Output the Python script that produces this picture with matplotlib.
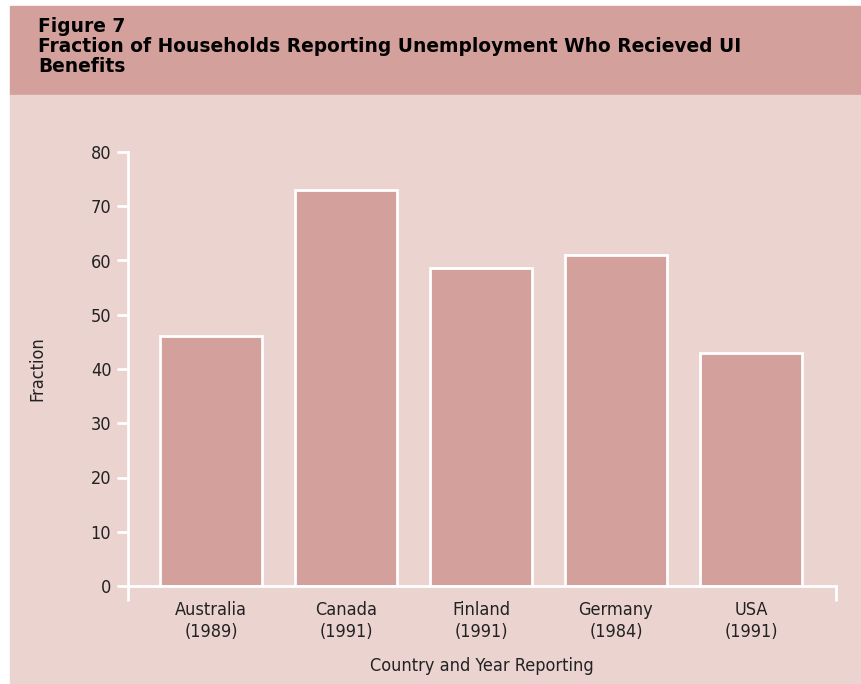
import matplotlib.pyplot as plt
from matplotlib.patches import Rectangle
from matplotlib import font_manager

countries = ['Australia', 'Canada', 'Finland', 'Germany', 'USA']
years = ['1989', '1991', '1991', '1984', '1991']
fraction = [46, 73, 58.7, 61, 43]

header_col = '#d3a09c'
panel_col = '#ebd3d0'

# a narrow face for the axis text, if one is installed
cond = [f for f in font_manager.fontManager.ttflist
        if f.name == 'DejaVu Sans' and 'ondensed' in f.fname and f.weight in (400, 'normal')
        and f.style == 'normal']
if cond:
    narrow = font_manager.FontProperties(fname=cond[0].fname, size=13)
else:
    narrow = font_manager.FontProperties(family='DejaVu Sans', size=12)

fig = plt.figure(figsize=(8.61, 6.84), dpi=100, facecolor='white')

# background bands, drawn under the axes
fig.patches.append(Rectangle((10 / 861, 1 - 95 / 684), 1, 89 / 684,
                             transform=fig.transFigure, color=header_col, zorder=-10))
fig.patches.append(Rectangle((10 / 861, 0.0015), 1, 1 - 95 / 684 - 0.0015,
                             transform=fig.transFigure, color=panel_col, zorder=-10))

fig.text(38 / 861, 1 - 26 / 684, 'Figure 7', fontsize=13.4, fontweight='bold',
         family='DejaVu Sans', va='center')
fig.text(38 / 861, 1 - 47 / 684,
         'Fraction of Households Reporting Unemployment Who Recieved UI',
         fontsize=13.4, fontweight='bold', family='DejaVu Sans', va='center')
fig.text(38 / 861, 1 - 67 / 684, 'Benefits', fontsize=13.4, fontweight='bold',
         family='DejaVu Sans', va='center')

ax = fig.add_axes([128 / 861, 1 - 586 / 684, (836 - 128) / 861, (586 - 152) / 684])
ax.set_facecolor('none')
x = list(range(len(countries)))
ax.bar(x, fraction, width=0.755, color=header_col, edgecolor='white', linewidth=2)

ax.set_xlim(-0.615, 4.63)
ax.set_ylim(0, 80)
ax.set_yticks(range(0, 81, 10))
ax.set_xticks(x)
ax.set_xticklabels([c + '\n(' + y + ')' for c, y in zip(countries, years)],
                   fontproperties=narrow, linespacing=1.3, color='#222222')
ax.set_xticks([-0.615, 4.63], minor=True)
ax.tick_params(axis='x', which='major', length=0, pad=11)
ax.tick_params(axis='x', which='minor', length=11, width=2, color='white', direction='out')
ax.tick_params(axis='y', length=8, width=2, color='white', pad=4)
for lbl in ax.get_yticklabels():
    lbl.set_fontproperties(narrow)
    lbl.set_color('#222222')

for s in ['top', 'right']:
    ax.spines[s].set_visible(False)
for s in ['left', 'bottom']:
    ax.spines[s].set_color('white')
    ax.spines[s].set_linewidth(2)

ax.set_ylabel('Fraction', fontproperties=narrow, labelpad=32, color='#222222')
ax.set_xlabel('Country and Year Reporting', fontproperties=narrow, labelpad=11,
              color='#222222')

fig.savefig('out.png', dpi=100, facecolor='white')
